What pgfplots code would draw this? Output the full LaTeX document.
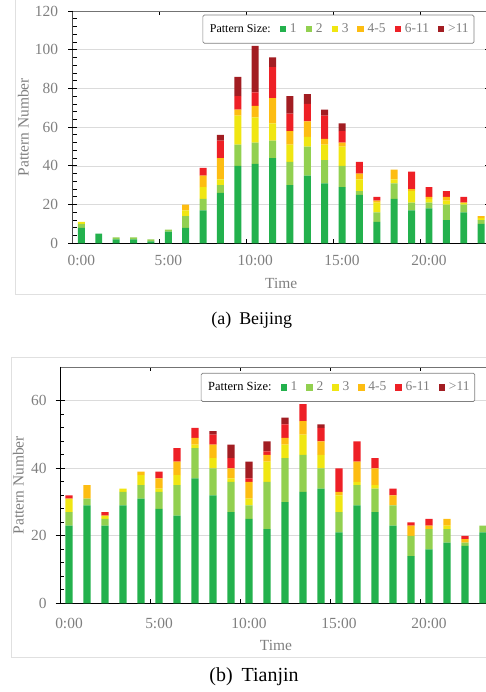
\documentclass[border=0pt]{standalone}
\usepackage{fontspec}
\setmainfont{Liberation Serif}
\usepackage{pgfplots}
\usepackage{pgfplotstable}
\pgfplotsset{compat=1.18}

\definecolor{cA}{HTML}{23B14D}
\definecolor{cB}{HTML}{92D050}
\definecolor{cC}{HTML}{F0E612}
\definecolor{cD}{HTML}{FDBD12}
\definecolor{cE}{HTML}{EE2026}
\definecolor{cF}{HTML}{A21D22}
\definecolor{tickgray}{HTML}{7F7F7F}

% columns: hour, size 1, 2, 3, 4-5, 6-11, >11
\pgfplotstableread{
h a b c d e f
0 8 2 1 0 0 0
1 5 0 0 0 0 0
2 2 1 0 0 0 0
3 2 1 0 0 0 0
4 1 1 0 0 0 0
5 6 1 0 0 0 0
6 8 6 3 3 0 0
7 17 6 6 6 4 0
8 26 4 3 11 9 3
9 40 11 15 3 7 10
10 41 11 13 6 7 24
11 44 9 9 13 16 5
12 30 12 9 7 9 9
13 35 15 5 8 9 5
14 31 12 8 3 12 3
15 29 11 10 2 6 4
16 25 2 6 3 6 0
17 11 5 5 1 2 0
18 23 8 2 5 0 0
19 17 4 6 1 9 0
20 18 3 2 1 5 0
21 12 8 2 2 3 0
22 16 4 1 0 3 0
23 10 2 1 1 0 0
}\beijing

\pgfplotstableread{
h a b c d e f
0 23 4 4 0 1 0
1 29 2 0 4 0 0
2 23 2 1 0 1 0
3 29 4 1 0 0 0
4 31 4 3 1 0 0
5 28 5 1 3 2 0
6 26 9 3 4 4 0
7 37 9 1 2 3 0
8 32 8 3 4 3 1
9 27 9 1 3 3 4
10 25 4 2 5 1 5
11 22 14 6 2 1 3
12 30 13 4 2 4 2
13 33 11 6 4 5 0
14 34 6 4 4 4 1
15 21 6 5 1 7 0
16 29 6 1 6 6 0
17 27 7 1 5 3 0
18 23 6 0 3 2 0
19 14 6 0 3 1 0
20 16 6 0 1 2 0
21 18 4 1 2 0 0
22 17 1 0 1 1 0
23 21 2 0 0 0 0
}\tianjin

\pgfplotsset{
  pattern chart/.style={
    scale only axis,
    ybar stacked,
    bar width=0.4,
    xmin=-0.5, xmax=23.5,
    ymin=0,
    enlargelimits=false,
    xtick={-0.5,4.5,9.5,14.5,19.5},
    xticklabels={0:00,5:00,10:00,15:00,20:00},
    tick align=inside,
    major tick length=4.5bp,
    minor tick length=4bp,
    minor y tick num=4,
    ymajorgrids,
    grid style={draw=black!14, line width=0.6bp},
    tick style={draw=black, line width=0.8bp},
    axis line style={draw=black!55, line width=0.8bp},
    tick label style={font=\fontsize{15.5}{18}\selectfont, text=tickgray},
    /pgf/number format/assume math mode=true,
    label style={font=\fontsize{15.5}{18}\selectfont, text=tickgray},
    yticklabel style={anchor=east, inner sep=0pt},
    xticklabel style={anchor=center, inner sep=0pt},
    xlabel={Time}, ylabel={Pattern Number},
    legend columns=-1,
    legend image code/.code={\fill[##1, sharp corners] (0bp,-3.2bp) rectangle (6.4bp,3.2bp);},
    legend style={anchor=north east, draw=black!50, line width=0.7bp,
      rounded corners=1.5bp, fill=white, inner xsep=3.3bp, inner ysep=5.6bp,
      text=tickgray, font=\fontsize{13.5}{16}\selectfont,
      nodes={inner sep=2bp, text height=10bp, text depth=3bp},
      /tikz/every odd column/.append style={column sep=1.8bp},
      /tikz/every even column/.append style={column sep=7bp}},
    every axis plot/.append style={draw=none},
  },
}

\begin{document}
\begin{tikzpicture}
\useasboundingbox (0,0) rectangle (486bp,692bp);

% frames
\draw[black!12, line width=0.8bp] (15bp,397.7bp) rectangle (495bp,700bp);
\draw[black!12, line width=0.8bp] (11.7bp,35bp) rectangle (495bp,335bp);

% ---------- Beijing ----------
\begin{axis}[pattern chart,
  at={(72.7bp,448.7bp)}, anchor=south west,
  width=417.1bp, height=232.3bp,
  ymax=120, ytick={0,20,...,120},
  extra y ticks={0,20,...,120}, extra y tick labels={},
  extra y tick style={tick align=outside, grid=none},
  xticklabel style={xshift=8.69bp, yshift=-17.5bp},
  yticklabel style={xshift=-14.4bp},
  ylabel style={at={(axis description cs:-0.1184,0.5)}, anchor=center},
  xlabel style={at={(axis description cs:0.5,-0.1709)}, anchor=center},
  legend style={at={(rel axis cs:0.963,0.984)}},
]
\addlegendimage{empty legend}
\addlegendentry{\fontsize{12}{14}\selectfont\color{black}Pattern Size:\hspace{-3bp}}
\addplot[fill=cA] table[x=h,y=a]{\beijing}; \addlegendentry{1}
\addplot[fill=cB] table[x=h,y=b]{\beijing}; \addlegendentry{2}
\addplot[fill=cC] table[x=h,y=c]{\beijing}; \addlegendentry{3}
\addplot[fill=cD] table[x=h,y=d]{\beijing}; \addlegendentry{4-5}
\addplot[fill=cE] table[x=h,y=e]{\beijing}; \addlegendentry{6-11}
\addplot[fill=cF] table[x=h,y=f]{\beijing}; \addlegendentry{>11}
\draw[black, line width=1.1bp] (rel axis cs:0,1) -- (rel axis cs:0,0) -- (rel axis cs:1,0);
\end{axis}

% ---------- Tianjin ----------
\begin{axis}[pattern chart,
  at={(60bp,88.7bp)}, anchor=south west,
  width=432bp, height=236.3bp,
  ymax=70, ytick={0,20,...,60},
  extra y ticks={0,20,...,60}, extra y tick labels={},
  extra y tick style={tick align=outside, grid=none},
  xticklabel style={xshift=9bp, yshift=-20.5bp},
  yticklabel style={xshift=-13.3bp},
  ylabel style={at={(axis description cs:-0.0965,0.5)}, anchor=center},
  xlabel style={at={(axis description cs:0.5,-0.1765)}, anchor=center},
  legend style={at={(rel axis cs:0.961,0.975)}},
]
\addlegendimage{empty legend}
\addlegendentry{\fontsize{12.5}{14}\selectfont\color{black}Pattern Size:\hspace{-3bp}}
\addplot[fill=cA] table[x=h,y=a]{\tianjin}; \addlegendentry{1}
\addplot[fill=cB] table[x=h,y=b]{\tianjin}; \addlegendentry{2}
\addplot[fill=cC] table[x=h,y=c]{\tianjin}; \addlegendentry{3}
\addplot[fill=cD] table[x=h,y=d]{\tianjin}; \addlegendentry{4-5}
\addplot[fill=cE] table[x=h,y=e]{\tianjin}; \addlegendentry{6-11}
\addplot[fill=cF] table[x=h,y=f]{\tianjin}; \addlegendentry{>11}
\draw[black, line width=1.1bp] (rel axis cs:0,1) -- (rel axis cs:0,0) -- (rel axis cs:1,0);
\end{axis}

% captions
\node[font=\fontsize{18}{21}\selectfont, text=black] at (251.7bp,372bp) {(a)\hspace{8bp}Beijing};
\node[font=\fontsize{20}{23}\selectfont, text=black] at (254bp,15bp) {(b)\hspace{9bp}Tianjin};
\end{tikzpicture}
\end{document}
